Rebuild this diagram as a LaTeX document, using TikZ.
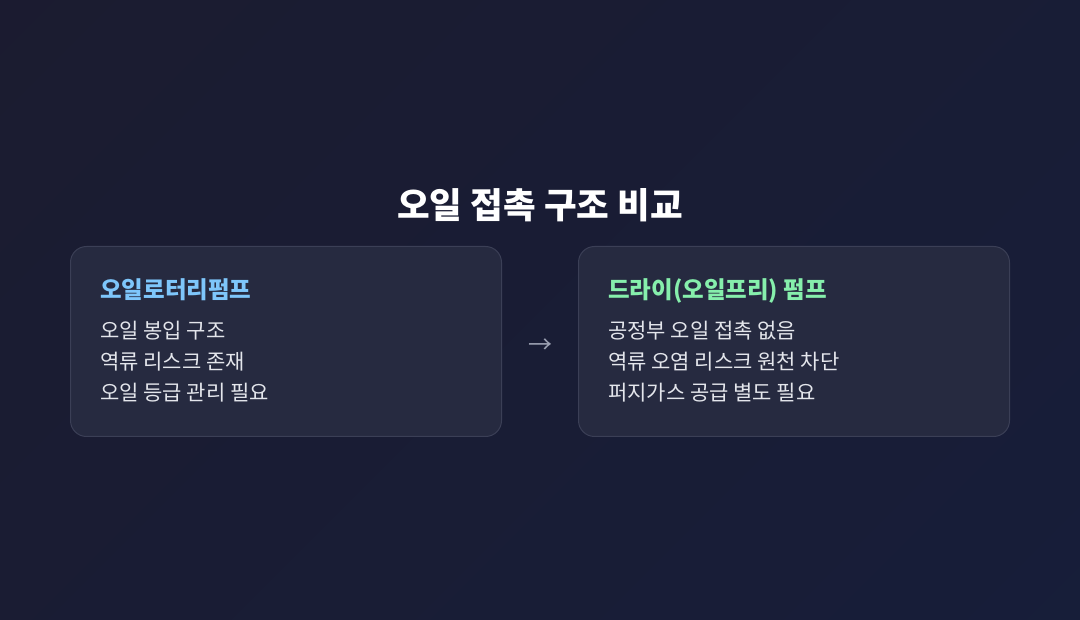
\documentclass[tikz,border=0pt]{standalone}
\usepackage{fontspec}
\setmainfont{Noto Sans CJK KR}
\usetikzlibrary{positioning}

\definecolor{bgtop}{HTML}{1C1B2E}
\definecolor{bgbot}{HTML}{161E3B}
\definecolor{cardfill}{HTML}{262A40}
\definecolor{cardline}{HTML}{3B3F56}
\definecolor{headblue}{HTML}{7EC6FB}
\definecolor{headgreen}{HTML}{86EFAC}
\definecolor{bodytext}{HTML}{E4E6EC}
\definecolor{arrowgray}{HTML}{9CA1B2}

\begin{document}
\begin{tikzpicture}[x=1pt,y=-1pt]
	\tikzstyle{card}=[fill=cardfill, draw=cardline, line width=1pt, rounded corners=16pt]
	\tikzstyle{head}=[anchor=base west, inner sep=0pt, font=\fontsize{23.5}{26}\selectfont\bfseries]
	\tikzstyle{body}=[anchor=base west, inner sep=0pt, text=bodytext, font=\fontsize{21}{25}\selectfont]
	% background
	\begin{scope}
		\clip (0,0) rectangle (1080,620);
		\shade[shading=axis, top color=bgtop, bottom color=bgbot, shading angle=45] (-310,-540) rectangle (1390,1160);
	\end{scope}
	\useasboundingbox (0,0) rectangle (1080,620);
	\node (title) [anchor=base, inner sep=0pt, text=white, font=\fontsize{35.5}{40}\selectfont\bfseries] at (540,219) {오일 접촉 구조 비교};
	% left card
	\draw[card] (70.5,246.5) rectangle (501.5,436.5);
	\node (oilhead) [head, text=headblue] at (100,299) {오일로터리펌프};
	\node (oil1) [body] at (100,338.5) {오일 봉입 구조};
	\node (oil2) [body] at (100,369.5) {역류 리스크 존재};
	\node (oil3) [body] at (100,400.5) {오일 등급 관리 필요};
	% right card
	\draw[card] (578.5,246.5) rectangle (1009.5,436.5);
	\node (dryhead) [head, text=headgreen] at (608,299) {드라이(오일프리) 펌프};
	\node (dry1) [body] at (608,338.5) {공정부 오일 접촉 없음};
	\node (dry2) [body] at (608,369.5) {역류 오염 리스크 원천 차단};
	\node (dry3) [body] at (608,400.5) {퍼지가스 공급 별도 필요};
	\node (arrow) [text=arrowgray, font=\fontsize{24}{28}\selectfont] at (540,346) {→};
\end{tikzpicture}
\end{document}
